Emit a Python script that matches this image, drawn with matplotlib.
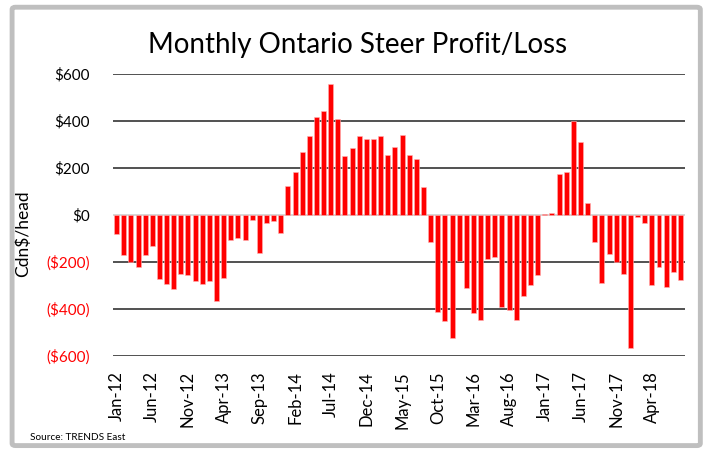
import matplotlib.pyplot as plt
from matplotlib.patches import FancyBboxPatch

# monthly profit/loss, Jan-12 .. Aug-18 (Cdn$/head)
months = ['Jan', 'Feb', 'Mar', 'Apr', 'May', 'Jun', 'Jul', 'Aug', 'Sep', 'Oct', 'Nov', 'Dec']
profit = [
    -82, -171, -199, -220, -171, -133, -271, -294, -317, -249, -254, -283,   # 2012
    -294, -283, -367, -267, -105, -99, -105, -21, -160, -33, -27, -76,       # 2013
    124, 184, 269, 335, 418, 441, 558, 408, 252, 286, 335, 324,              # 2014
    324, 335, 257, 291, 341, 257, 240, 119, -116, -411, -451, -523,          # 2015
    -194, -311, -417, -445, -188, -177, -390, -406, -445, -343, -300, -256,  # 2016
    3, 7, 174, 184, 400, 312, 51, -116, -288, -165, -199, -249,              # 2017
    -567, -10, -33, -300, -222, -305, -243, -277,                            # 2018
]
labels = [f"{months[i % 12]}-{12 + i // 12}" for i in range(len(profit))]
yticks = [-600, -400, -200, 0, 200, 400, 600]
ytick_labels = ['($600)', '($400)', '($200)', '$0', '$200', '$400', '$600']

fig = plt.figure(figsize=(7.11, 4.51), dpi=100)

# grey frame round the whole chart
frame = FancyBboxPatch((0.017, 0.012), 0.968, 0.972, boxstyle='round,pad=0,rounding_size=0.005',
                       transform=fig.transFigure, facecolor='none', edgecolor='#bfbfbf',
                       linewidth=3.5, zorder=0)
fig.patches.append(frame)

ax = fig.add_axes([0.159, 0.2106, 0.804, 0.6255])
ax.set_facecolor('none')

x = list(range(len(profit)))
ax.bar(x, profit, width=0.7, color='#ff0000', edgecolor='#ffb3b3', linewidth=0.4, zorder=3)

for v in yticks:
    if v == 0:
        ax.axhline(v, color='#d0d0d0', linewidth=1.2, zorder=2)
    else:
        ax.axhline(v, color='#222222', linewidth=1.1, zorder=1)

ax.set_ylim(-600, 600)
ax.set_xlim(-0.5, 79.6)
ax.set_yticks(yticks)
ax.set_yticklabels(ytick_labels, fontsize=11, family='Lato')
for t, v in zip(ax.get_yticklabels(), yticks):
    t.set_color('#ff0000' if v < 0 else 'black')
ax.tick_params(axis='y', length=0, pad=16.5)

ax.set_xticks(x[::5])
ax.set_xticklabels(labels[::5], rotation=90, fontsize=12, family='Lato')
ax.tick_params(axis='x', length=0, pad=11)

for s in ax.spines.values():
    s.set_visible(False)

ax.set_ylabel('Cdn$/head', fontsize=12.5, family='Lato')
ax.yaxis.set_label_coords(-0.143, 0.435)

fig.text(0.503, 0.90, 'Monthly Ontario Steer Profit/Loss', ha='center', va='center',
         fontsize=20, family='Lato')
fig.text(0.042, 0.031, 'Source: TRENDS East', ha='left', va='center', fontsize=7.2,
         family='Lato')

fig.savefig('out.png', dpi=100)
